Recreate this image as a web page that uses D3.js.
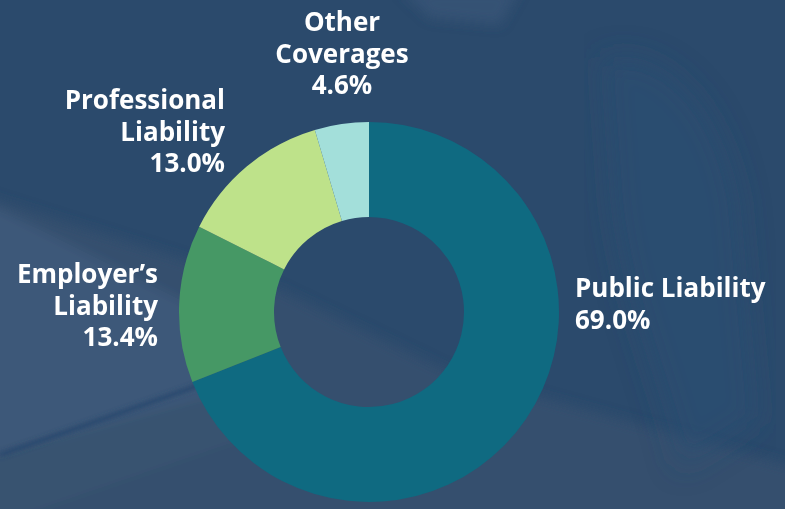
<!DOCTYPE html>
<html><head><meta charset="utf-8">
<script src="https://cdn.jsdelivr.net/npm/d3@7/dist/d3.min.js"></script>
<style>html,body{margin:0;padding:0;background:#2c4a6d;overflow:hidden}</style>
</head><body>
<svg id="chart" width="785" height="509"></svg>
<script>
const categories = ["Public Liability", "Employer\u2019s Liability", "Professional Liability", "Other Coverages"];
const values = [69.0, 13.4, 13.0, 4.6];
const colors = ["#0f6a81", "#469865", "#bee28a", "#a3dfda"];
const labelLines = [["Public Liability", "69.0%"], ["Employer\u2019s", "Liability", "13.4%"], ["Professional", "Liability", "13.0%"], ["Other", "Coverages", "4.6%"]];

const W = 785, H = 509;
const svg = d3.select("#chart");
const defs = svg.append("defs");
defs.append("filter").attr("id","blur").append("feGaussianBlur").attr("stdDeviation", 6);
defs.append("filter").attr("id","blur3").append("feGaussianBlur").attr("stdDeviation", 14);
defs.append("filter").attr("id","blur2").append("feGaussianBlur").attr("stdDeviation", 2);
svg.append("rect").attr("width",W).attr("height",H).attr("fill","#2b4a6c");
const bgG = svg.append("g").attr("filter","url(#blur)");
bgG.append("path").attr("d","M-20,195 L280,290 L450,372 L805,470 L805,530 L-20,530 Z").attr("fill","#34506e");
bgG.append("path").attr("d","M-20,200 L220,320 L230,390 L-20,460 Z").attr("fill","#3d5979");
bgG.append("path").attr("d","M-20,460 L230,390 L300,420 L-20,530 Z").attr("fill","#37526f");
bgG.append("path").attr("d","M400,-10 L520,-10 L500,25 L430,18 Z").attr("fill","#3d5879").attr("opacity",0.6);
const softG = svg.append("g").attr("filter","url(#blur3)");
softG.append("path").attr("d","M600,60 C650,40 720,90 740,200 L760,420 L680,470 C660,380 620,300 610,200 Z").attr("fill","#2e4f74").attr("opacity",0.5);
svg.append("path").attr("d","M0,455 L200,385").attr("stroke","#2c4a6e").attr("stroke-width",5).attr("fill","none").attr("filter","url(#blur2)");

const cx = 369, cy = 312, rO = 190, rI = 95;
const pie = d3.pie().sort(null).value(d => d)(values);
const arc = d3.arc().innerRadius(rI).outerRadius(rO);
const gArc = svg.append("g").attr("transform", `translate(${cx},${cy})`);
gArc.selectAll("path").data(pie).join("path")
  .attr("d", arc).attr("fill", (d,i) => colors[i]);

const font = "'Open Sans', sans-serif";
const fs = 26;
const labelPos = [
  {x: 575, y: 297, anchor: "start"},
  {x: 158, y: 283, anchor: "end"},
  {x: 225, y: 109, anchor: "end"},
  {x: 342, y: 31, anchor: "middle"}
];
const lh = 31.5;
labelLines.forEach((lines, i) => {
  const p = labelPos[i];
  const t = svg.append("text").attr("font-family", font).attr("font-weight", "bold")
    .attr("font-size", fs).attr("fill", "#ffffff").attr("text-anchor", p.anchor);
  lines.forEach((ln, j) => {
    t.append("tspan").attr("x", p.x).attr("y", p.y + j * lh).text(ln);
  });
});
</script>
</body></html>
